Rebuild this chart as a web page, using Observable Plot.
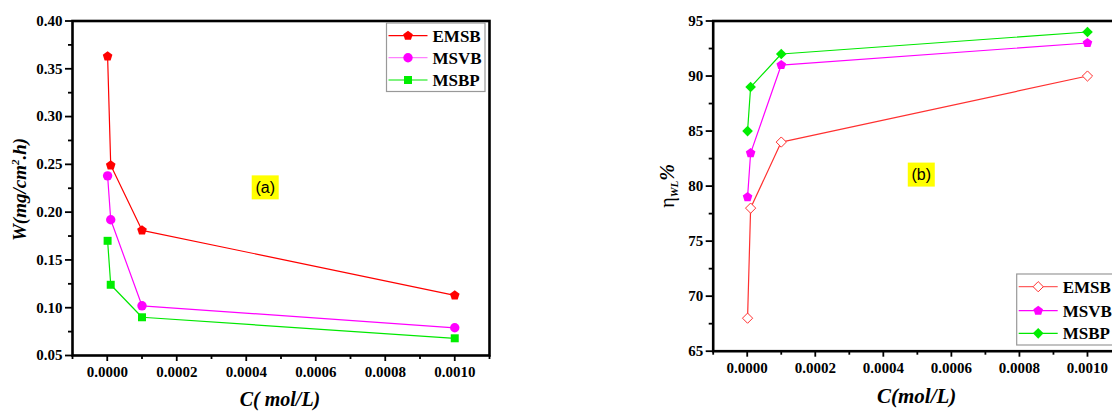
<!DOCTYPE html>
<html>
<head>
<meta charset="utf-8">
<script src="https://cdn.jsdelivr.net/npm/d3@7"></script>
<script src="https://cdn.jsdelivr.net/npm/@observablehq/plot@0.6"></script>
<style>
  html, body { margin: 0; padding: 0; background: #fff; }
  #wrap { position: relative; width: 1112px; height: 412px; overflow: hidden; }
  #wrap svg { position: absolute; top: 0; overflow: visible; }
</style>
</head>
<body>
<div id="wrap"></div>
<script>
// Inhibitor concentrations (mol/L)
const conc = [0.000001, 0.00001, 0.0001, 0.001];

// (a) corrosion rate W (mg/cm².h)
const rateEMSB = [0.363, 0.249, 0.181, 0.113];
const rateMSVB = [0.238, 0.192, 0.102, 0.079];
const rateMSBP = [0.170, 0.124, 0.090, 0.068];

// (b) inhibition efficiency ηWL %
const effEMSB = [68, 78, 84, 90];
const effMSVB = [79, 83, 91, 93];
const effMSBP = [85, 89, 92, 94];

const seriesNames = ["EMSB", "MSVB", "MSBP"];

// Axis ticks
const xMajor = [0, 0.0002, 0.0004, 0.0006, 0.0008, 0.0010];
const xMinor = [-0.0001, 0.0001, 0.0003, 0.0005, 0.0007, 0.0009, 0.0011];
const yMajorA = [0.05, 0.10, 0.15, 0.20, 0.25, 0.30, 0.35, 0.40];
const yMinorA = [0.075, 0.125, 0.175, 0.225, 0.275, 0.325, 0.375];
const yMajorB = [65, 70, 75, 80, 85, 90, 95];
const yMinorB = [67.5, 72.5, 77.5, 82.5, 87.5, 92.5];

// Panel tags, placed in data coordinates
const tagA = { text: "(a)", x: 0.000456, y: 0.2254 };
const tagB = { text: "(b)", x: 0.000513, y: 81.0 };

// Filled pentagon marker
const symbolPentagon = {
  draw(ctx, size) {
    const R = Math.sqrt(size / (2.5 * Math.sin(2 * Math.PI / 5)));
    for (let k = 0; k < 5; k++) {
      const a = -Math.PI / 2 + k * 2 * Math.PI / 5;
      const px = R * Math.cos(a), py = R * Math.sin(a);
      if (k) ctx.lineTo(px, py); else ctx.moveTo(px, py);
    }
    ctx.closePath();
  }
};

const serif = "'Liberation Serif', 'DejaVu Serif', serif";
const wrap = document.getElementById("wrap");

function rows(values) {
  return conc.map((c, i) => ({ c, v: values[i] }));
}

function seriesMarks(spec) {
  const data = rows(spec.values);
  return [
    Plot.line(data, { x: "c", y: "v", stroke: spec.line, strokeWidth: 1.2 }),
    Plot.dot(data, {
      x: "c", y: "v", symbol: spec.symbol, r: spec.r,
      fill: spec.fill, stroke: spec.stroke, strokeWidth: spec.strokeWidth ?? 1
    })
  ];
}

function axes(yMajor, yMinor, yFmt) {
  const common = { strokeWidth: 1.8, label: null };
  return [
    Plot.axisX({ ...common, ticks: xMajor, tickSize: 6, tickPadding: 5, tickFormat: d3.format(".4f") }),
    Plot.axisX({ ...common, ticks: xMinor, tickSize: 4, tickFormat: () => "" }),
    Plot.axisY({ ...common, ticks: yMajor, tickSize: 7, tickPadding: 3, tickFormat: yFmt }),
    Plot.axisY({ ...common, ticks: yMinor, tickSize: 4, tickFormat: () => "" })
  ];
}

// Serif bold tick labels (the only texts present right after Plot renders)
function styleTickLabels(svg) {
  svg.querySelectorAll("text").forEach(t => {
    t.setAttribute("font-family", serif);
    t.setAttribute("font-weight", "bold");
    t.setAttribute("font-size", "15");
    t.setAttribute("fill", "#000");
  });
}

function drawTag(svg, tag) {
  const sx = svg.scale("x"), sy = svg.scale("y");
  const cx = sx.apply(tag.x), cy = sy.apply(tag.y);
  const g = d3.select(svg).append("g");
  g.append("rect").attr("x", cx - 13.5).attr("y", cy - 12).attr("width", 27).attr("height", 24).attr("fill", "#ffff00");
  g.append("text").attr("x", cx).attr("y", cy).attr("dy", "0.36em")
    .attr("text-anchor", "middle")
    .attr("font-family", "'Liberation Sans', Arial, sans-serif")
    .attr("font-size", 16).attr("font-weight", "normal").attr("fill", "#000")
    .text(tag.text);
}

function drawLegend(svg, x, y, w, h, specs, rowYs) {
  const g = d3.select(svg).append("g");
  g.append("rect").attr("x", x).attr("y", y).attr("width", w).attr("height", h)
    .attr("fill", "#fff").attr("stroke", "#999").attr("stroke-width", 1.2);
  specs.forEach((s, i) => {
    const yy = y + rowYs[i];
    g.append("line").attr("x1", x + 2).attr("x2", x + 41).attr("y1", yy).attr("y2", yy)
      .attr("stroke", s.legendLine ?? s.line).attr("stroke-width", 1.2);
    g.append("path")
      .attr("transform", `translate(${x + 21.5},${yy})`)
      .attr("d", d3.symbol(s.symbol, Math.PI * s.r * s.r)())
      .attr("fill", s.fill).attr("stroke", s.stroke ?? "none").attr("stroke-width", s.strokeWidth ?? 1);
    g.append("text").attr("x", x + 46).attr("y", yy).attr("dy", "0.35em")
      .attr("text-anchor", "start")
      .attr("font-family", serif).attr("font-weight", "bold").attr("font-size", 17).attr("fill", "#000")
      .text(seriesNames[i]);
  });
}

// ---------- Panel (a): corrosion rate ----------
const specsA = [
  { values: rateEMSB, line: "#ff0000", symbol: symbolPentagon, r: 4.4, fill: "#ff0000" },
  { values: rateMSVB, line: "#ff00ff", legendLine: "#ff80ff", symbol: d3.symbolCircle, r: 4.7, fill: "#ff00ff" },
  { values: rateMSBP, line: "#00e800", symbol: d3.symbolSquare, r: 4.5, fill: "#00ee00" }
];

const plotA = Plot.plot({
  width: 520, height: 412,
  marginLeft: 72, marginRight: 31, marginTop: 20.5, marginBottom: 57,
  style: { background: "transparent", color: "#000" },
  x: { domain: [-0.0001, 0.0011] },
  y: { domain: [0.05, 0.40] },
  marks: [
    ...specsA.flatMap(seriesMarks),
    ...axes(yMajorA, yMinorA, d3.format(".2f")),
    Plot.frame({ stroke: "#000", strokeWidth: 2.6 })
  ]
});
plotA.style.left = "0px";
wrap.appendChild(plotA);
styleTickLabels(plotA);
drawTag(plotA, tagA);
drawLegend(plotA, 386.5, 23, 98.5, 68.5, specsA, [12.7, 34.7, 57]);

d3.select(plotA).append("text")
  .attr("transform", "translate(26,189.5) rotate(-90)")
  .attr("text-anchor", "middle")
  .attr("font-family", serif).attr("font-weight", "bold").attr("font-style", "italic")
  .attr("font-size", 19).attr("fill", "#000")
  .call(t => {
    t.append("tspan").text("W(mg/cm");
    t.append("tspan").attr("font-size", 11).attr("dy", -7).text("2");
    t.append("tspan").attr("dy", 7).text(".h)");
  });
d3.select(plotA).append("text")
  .attr("x", 280).attr("y", 406)
  .attr("text-anchor", "middle")
  .attr("font-family", serif).attr("font-weight", "bold").attr("font-style", "italic")
  .attr("font-size", 20).attr("fill", "#000")
  .text("C( mol/L)");

// ---------- Panel (b): inhibition efficiency ----------
const specsB = [
  { values: effEMSB, line: "#ff3030", legendLine: "#ff6060", symbol: d3.symbolDiamond2, r: 4.6, fill: "#ffffff", stroke: "#ff3030", strokeWidth: 1 },
  { values: effMSVB, line: "#ff00ff", symbol: symbolPentagon, r: 4.4, fill: "#ff00ff" },
  { values: effMSBP, line: "#00e800", symbol: d3.symbolDiamond2, r: 4.8, fill: "#00ee00" }
];

const plotB = Plot.plot({
  width: 540, height: 412,
  marginLeft: 112.7, marginRight: 19, marginTop: 20.5, marginBottom: 61.3,
  style: { background: "transparent", color: "#000" },
  x: { domain: [-0.0001, 0.0011] },
  y: { domain: [65, 95] },
  marks: [
    ...specsB.flatMap(seriesMarks),
    ...axes(yMajorB, yMinorB, d3.format("d")),
    Plot.frame({ stroke: "#000", strokeWidth: 2.6 })
  ]
});
plotB.style.left = "600px";
wrap.appendChild(plotB);
styleTickLabels(plotB);
drawTag(plotB, tagB);
drawLegend(plotB, 416.7, 274, 100, 71, specsB, [12.7, 36.7, 59.3]);

d3.select(plotB).append("text")
  .attr("transform", "translate(74,186) rotate(-90)")
  .attr("text-anchor", "middle")
  .attr("font-family", serif).attr("font-size", 20).attr("fill", "#000")
  .call(t => {
    t.append("tspan").attr("font-weight", "normal").text("η");
    t.append("tspan").attr("font-size", 11).attr("font-style", "italic").attr("font-weight", "bold").attr("dy", 4).text("WL");
    t.append("tspan").attr("font-style", "italic").attr("font-weight", "bold").attr("dy", -4).text("%");
  });
d3.select(plotB).append("text")
  .attr("x", 316.7).attr("y", 403)
  .attr("text-anchor", "middle")
  .attr("font-family", serif).attr("font-weight", "bold").attr("font-style", "italic")
  .attr("font-size", 21).attr("fill", "#000")
  .text("C(mol/L)");
</script>
</body>
</html>
